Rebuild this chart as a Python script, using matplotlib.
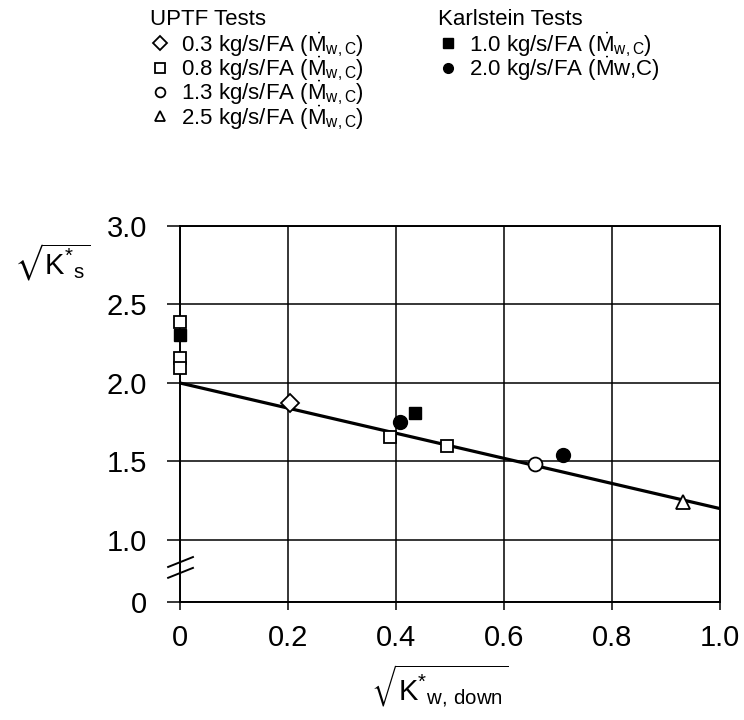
import numpy as np
import matplotlib
matplotlib.use('Agg')
import matplotlib.pyplot as plt
import matplotlib.transforms as mtransforms

plt.rcParams['font.family'] = ['Liberation Sans', 'DejaVu Sans']
plt.rcParams['mathtext.fontset'] = 'custom'
plt.rcParams['mathtext.rm'] = 'Liberation Sans'
plt.rcParams['mathtext.it'] = 'Liberation Sans'
plt.rcParams['mathtext.fallback'] = 'stixsans'

# UPTF tests (open markers)
uptf_03_x = [0.204]
uptf_03_y = [1.87]
uptf_08_x = [0.0, 0.0, 0.0, 0.389, 0.495]
uptf_08_y = [2.39, 2.157, 2.094, 1.658, 1.599]
uptf_13_x = [0.658]
uptf_13_y = [1.482]
uptf_25_x = [0.931]
uptf_25_y = [1.244]

# Karlstein tests (filled markers)
karl_10_x = [0.0, 0.436]
karl_10_y = [2.306, 1.807]
karl_20_x = [0.407, 0.710]
karl_20_y = [1.754, 1.541]

# correlation line
fit_x = [0.0, 1.0]
fit_y = [2.0, 1.2]

xticks = [0, 0.2, 0.4, 0.6, 0.8, 1.0]
xticklabels = ['0', '0.2', '0.4', '0.6', '0.8', '1.0']
yticks = [0, 1.0, 1.5, 2.0, 2.5, 3.0]
yticklabels = ['0', '1.0', '1.5', '2.0', '2.5', '3.0']

mdot = r'($\dot{\mathrm{M}}_{\mathrm{w,C}}$)'
uptf_labels = ['0.3 kg/s/FA ' + mdot, '0.8 kg/s/FA ' + mdot,
               '1.3 kg/s/FA ' + mdot, '2.5 kg/s/FA ' + mdot]
karl_labels = ['1.0 kg/s/FA ' + mdot, r'2.0 kg/s/FA ($\dot{\mathrm{M}}$w,C)']

# broken y axis: 0..1 squeezed
squeeze = 0.395


def fwd(y):
    y = np.asarray(y, dtype=float)
    return np.where(y >= 1, y, 1 - (1 - y) * squeeze)


def inv(v):
    v = np.asarray(v, dtype=float)
    return np.where(v >= 1, v, 1 - (1 - v) / squeeze)


fig = plt.figure(figsize=(7.44, 7.2), dpi=100)
ax = fig.add_axes([180 / 744, 118 / 720, 540 / 744, 376 / 720])
ax.set_yscale('function', functions=(fwd, inv))

ax.plot(fit_x, fit_y, color='black', lw=2.3, zorder=3, solid_capstyle='butt')

kw = dict(ls='none', color='black', mec='black', clip_on=False, zorder=5)
h1, = ax.plot(uptf_03_x, uptf_03_y, marker='D', ms=9, mfc='white', mew=1.3, **kw)
h2, = ax.plot(uptf_08_x, uptf_08_y, marker='s', ms=9, mfc='white', mew=1.3, **kw)
h3, = ax.plot(uptf_13_x, uptf_13_y, marker='o', ms=10, mfc='white', mew=1.3, **kw)
h4, = ax.plot(uptf_25_x, uptf_25_y, marker='^', ms=10, mfc='white', mew=1.3, **kw)
h5, = ax.plot(karl_10_x, karl_10_y, marker='s', ms=8, mfc='black', **kw)
h6, = ax.plot(karl_20_x, karl_20_y, marker='o', ms=10, mfc='black', **kw)

ax.set_xlim(0, 1.0)
ax.set_ylim(0, 3.0)
ax.set_xticks(xticks)
ax.set_xticklabels(xticklabels)
ax.set_yticks(yticks)
ax.set_yticklabels(yticklabels)
ax.grid(True, color='black', lw=1.1)
ax.tick_params(axis='y', direction='out', length=9.5, width=1.1, pad=14, labelsize=21)
ax.tick_params(axis='x', direction='out', length=6, width=1.1, pad=10, labelsize=21)
for s in ax.spines.values():
    s.set_linewidth(1.4)

# axis break marks
trans = mtransforms.blended_transform_factory(ax.transAxes, ax.transData)
for yb in [0.47, 0.645]:
    ax.plot([-0.022, 0.024], [yb - 0.08, yb + 0.08], color='black', lw=1.4,
            transform=trans, clip_on=False, zorder=4)

fig.text(14 / 744, 1 - 262 / 720, r'$\sqrt{\mathrm{K}^{*}{}_{\mathrm{s}}}$',
         fontsize=21, ha='left', va='center')
fig.text(440 / 744, 1 - 686 / 720, r'$\sqrt{\mathrm{K}^{*}{}_{\mathrm{w,\,down}}}$',
         fontsize=21, ha='center', va='center')

leg_kw = dict(loc='upper left', frameon=False, fontsize=16, title_fontsize=16,
              alignment='left', handlelength=0.9, handletextpad=0.5,
              labelspacing=-0.2, borderpad=0, borderaxespad=0)
leg1 = fig.legend([h1, h2, h3, h4], uptf_labels, title='UPTF Tests',
                  bbox_to_anchor=(150 / 744, 1 - 9 / 720), **leg_kw)
leg2 = fig.legend([h5, h6], karl_labels, title='Karlstein Tests',
                  bbox_to_anchor=(438 / 744, 1 - 9 / 720), **leg_kw)
for leg in (leg1, leg2):
    leg._legend_box.sep = 0
    for lh in leg.legend_handles:
        lh.set_markersize(7)

fig.savefig('out.png', dpi=100)
